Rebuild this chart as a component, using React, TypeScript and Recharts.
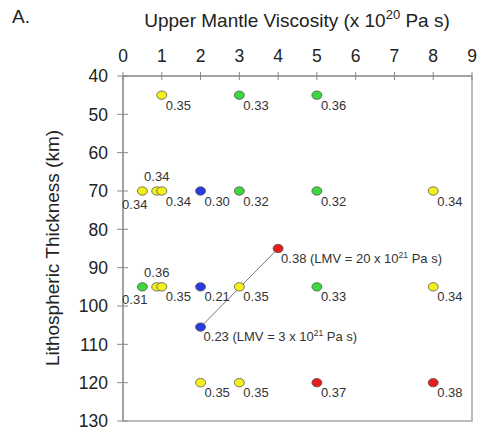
import { ScatterChart, Scatter, XAxis, YAxis, ReferenceArea } from 'recharts'

type Pt = { v: number; h: number; r: string; lmv?: number }

// upper mantle viscosity (x 1e20 Pa s), lithospheric thickness (km), relaxation label
const yellowPts: Pt[] = [
  { v: 1, h: 45, r: '0.35' },
  { v: 0.5, h: 70, r: '0.34' },
  { v: 0.87, h: 70, r: '0.34' },
  { v: 1, h: 70, r: '0.34' },
  { v: 8, h: 70, r: '0.34' },
  { v: 0.87, h: 95, r: '0.36' },
  { v: 1, h: 95, r: '0.35' },
  { v: 3, h: 95, r: '0.35' },
  { v: 8, h: 95, r: '0.34' },
  { v: 2, h: 120, r: '0.35' },
  { v: 3, h: 120, r: '0.35' },
]
const greenPts: Pt[] = [
  { v: 3, h: 45, r: '0.33' },
  { v: 5, h: 45, r: '0.36' },
  { v: 3, h: 70, r: '0.32' },
  { v: 5, h: 70, r: '0.32' },
  { v: 0.5, h: 95, r: '0.31' },
  { v: 5, h: 95, r: '0.33' },
]
const bluePts: Pt[] = [
  { v: 2, h: 70, r: '0.30' },
  { v: 2, h: 95, r: '0.21' },
  { v: 2, h: 105.5, r: '0.23', lmv: 3 },
]
const redPts: Pt[] = [
  { v: 4, h: 85, r: '0.38', lmv: 20 },
  { v: 5, h: 120, r: '0.37' },
  { v: 8, h: 120, r: '0.38' },
]
// lower mantle viscosity pair joined by a line
const lmvLink = [
  { v: 2, h: 105.5 },
  { v: 4, h: 85 },
]

const xTicks = [0, 1, 2, 3, 4, 5, 6, 7, 8, 9]
const yTicks = [40, 50, 60, 70, 80, 90, 100, 110, 120, 130]

const FONT = '"Liberation Sans", Arial, sans-serif'
const AXIS = '#8a8a8a'

function XTick(props: any) {
  const { x, y, payload } = props
  return (
    <g>
      <line x1={x} x2={x} y1={y - 4} y2={y + 4} stroke={AXIS} />
      <text x={x} y={y - 14.5} textAnchor="middle" fontSize={17.5} fill="#222" fontFamily={FONT}>
        {payload.value}
      </text>
    </g>
  )
}

function YTick(props: any) {
  const { x, y, payload } = props
  return (
    <g>
      <line x1={x - 6} x2={x + 5} y1={y} y2={y} stroke={AXIS} />
      <text x={x - 15} y={y} dy="0.36em" textAnchor="end" fontSize={17.5} fill="#222" fontFamily={FONT}>
        {payload.value}
      </text>
    </g>
  )
}

function makeDot(color: string) {
  return (props: any) => {
    const { cx, cy, payload } = props
    const p = payload as Pt
    let label
    if (p.lmv !== undefined) {
      label = (
        <text x={cx + 3} y={cy + 14} fontSize={13} fill="#333" fontFamily={FONT}>
          {p.r} (LMV = {p.lmv} x 10
          <tspan dy={-5} fontSize={8.5}>21</tspan>
          <tspan dy={5}> Pa s)</tspan>
        </text>
      )
    } else if (p.v <= 0.5) {
      // crowded near the axis: put label below-left
      label = (
        <text x={cx + 5} y={cy + 17.5} textAnchor="end" fontSize={13} fill="#333" fontFamily={FONT}>
          {p.r}
        </text>
      )
    } else if (p.v > 0.8 && p.v < 0.9) {
      label = (
        <text x={cx} y={cy - 10} textAnchor="middle" fontSize={13} fill="#333" fontFamily={FONT}>
          {p.r}
        </text>
      )
    } else {
      label = (
        <text x={cx + 4} y={cy + 14.5} fontSize={13} fill="#333" fontFamily={FONT}>
          {p.r}
        </text>
      )
    }
    return (
      <g>
        <ellipse cx={cx} cy={cy} rx={5} ry={4.2} fill={color} stroke="#555" strokeWidth={0.8} />
        {label}
      </g>
    )
  }
}

export default function App() {
  return (
    <div style={{ position: 'absolute', left: 0, top: 0, width: 477, height: 434, background: '#fff' }}>
      <ScatterChart width={477} height={434} margin={{ top: 75, right: 5, bottom: 13, left: 122 }}>
        <XAxis
          type="number"
          dataKey="v"
          orientation="top"
          domain={[0, 9]}
          ticks={xTicks}
          height={1}
          tickSize={0}
          tickMargin={0}
          tickLine={false}
          tick={<XTick />}
          stroke={AXIS}
          interval={0}
        />
        <YAxis
          type="number"
          dataKey="h"
          reversed
          domain={[40, 130]}
          ticks={yTicks}
          width={1}
          tickSize={0}
          tickMargin={0}
          tickLine={false}
          tick={<YTick />}
          stroke={AXIS}
          interval={0}
        />
        <ReferenceArea x1={0} x2={9} y1={40} y2={130} fill="none" stroke="#a6a6a6" strokeWidth={1.5} />
        <Scatter data={lmvLink} line={{ stroke: '#777', strokeWidth: 1 }} shape={() => <g />} isAnimationActive={false} />
        <Scatter data={greenPts} shape={makeDot('#3dd83d')} isAnimationActive={false} />
        <Scatter data={bluePts} shape={makeDot('#2a3be0')} isAnimationActive={false} />
        <Scatter data={yellowPts} shape={makeDot('#f4f01a')} isAnimationActive={false} />
        <Scatter data={redPts} shape={makeDot('#e81c1c')} isAnimationActive={false} />
      </ScatterChart>
      <svg width={477} height={434} style={{ position: 'absolute', left: 0, top: 0, pointerEvents: 'none' }}>
        <text x={12} y={23} fontSize={19} fill="#222" fontFamily={FONT}>A.</text>
        <text x={297} y={27} textAnchor="middle" fontSize={19} fill="#222" fontFamily={FONT}>
          Upper Mantle Viscosity (x 10
          <tspan dy={-8} fontSize={13}>20</tspan>
          <tspan dy={8}> Pa s)</tspan>
        </text>
        <text
          x={0}
          y={0}
          transform="translate(59 248) rotate(-90)"
          textAnchor="middle"
          fontSize={19}
          fill="#222"
          fontFamily={FONT}
        >
          Lithospheric Thickness (km)
        </text>
      </svg>
    </div>
  )
}
